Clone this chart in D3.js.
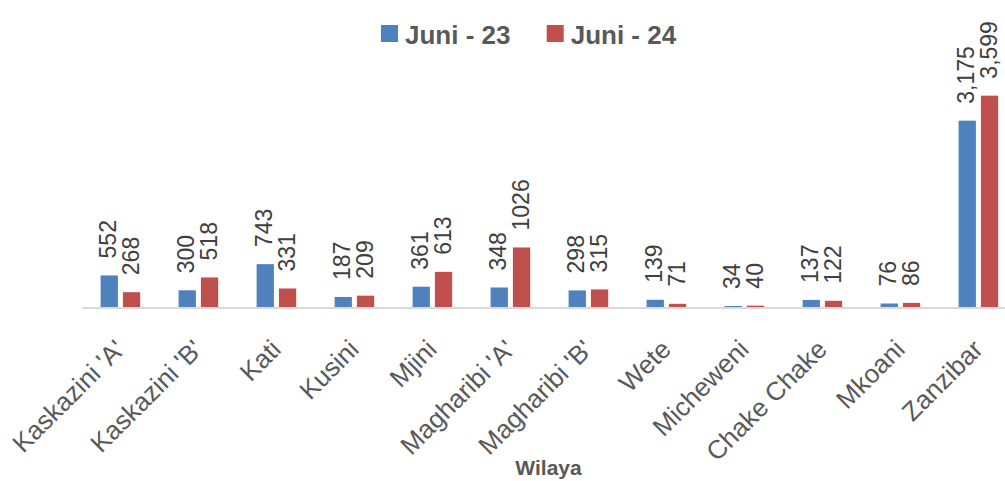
<!DOCTYPE html>
<html><head><meta charset="utf-8">
<script src="https://cdn.jsdelivr.net/npm/d3@7"></script>
<style>body{margin:0;background:#fff}svg{display:block}text{font-family:"Liberation Sans",Arial,sans-serif}</style>
</head><body>
<script>
const categories = ["Kaskazini 'A'","Kaskazini 'B'","Kati","Kusini","Mjini","Magharibi 'A'","Magharibi 'B'","Wete","Micheweni","Chake Chake","Mkoani","Zanzibar"];
const juni23 = [552,300,743,187,361,348,298,139,34,137,76,3175];
const juni24 = [268,518,331,209,613,1026,315,71,40,122,86,3599];
const seriesNames = ["Juni - 23","Juni - 24"];
const colors = ["#4F81BD","#C0504D"];

const W=1005,H=481;
const svg=d3.select("body").append("svg").attr("width",W).attr("height",H);
const x=d3.scaleBand().domain(categories).range([81.4,1017.4]).paddingInner(0).paddingOuter(0);
const xs=d3.scaleBand().domain([0,1]).range([0,78]).paddingInner(0.224).paddingOuter(0.861);
const y=d3.scaleLinear().domain([0,4000]).range([308,72]);
const fmt=(v,i)=> categories[i]==="Zanzibar" ? d3.format(",")(v) : String(v);
const data=[juni23,juni24];

const g=svg.append("g");
data.forEach((vals,s)=>{
  g.selectAll(".b"+s).data(vals).enter().append("rect")
   .attr("x",(d,i)=>x(categories[i])+xs(s)).attr("width",xs.bandwidth())
   .attr("y",d=>y(d)).attr("height",d=>y(0)-y(d)).attr("fill",colors[s]);
  g.selectAll(".l"+s).data(vals).enter().append("text")
   .attr("transform",(d,i)=>`translate(${x(categories[i])+xs(s)+xs.bandwidth()/2+7},${y(d)-17}) rotate(-90)`)
   .attr("font-size",23).attr("fill","#404040").text((d,i)=>fmt(d,i));
});
// axis
const ax=svg.append("g").attr("transform","translate(0,308)").call(d3.axisBottom(x).tickSize(0).tickFormat(""));
ax.select(".domain").attr("stroke","#D9D9D9").attr("stroke-width",2).attr("d","M82,0H1005");
svg.append("g").selectAll("text").data(categories).enter().append("text")
  .attr("transform",d=>`translate(${x(d)+x.bandwidth()/2+6},${351}) rotate(-45)`)
  .attr("text-anchor","end").attr("font-size",26).attr("fill","#595959").text(d=>d);
svg.append("text").attr("x",548.5).attr("y",475).attr("text-anchor","middle").attr("font-size",21).attr("font-weight","bold").attr("fill","#595959").text("Wilaya");
// legend
const lx=[381,546.7];
seriesNames.forEach((n,i)=>{
  svg.append("rect").attr("x",lx[i]).attr("y",25).attr("width",17).attr("height",17).attr("fill",colors[i]);
  svg.append("text").attr("x",lx[i]+24).attr("y",43.5).attr("font-size",26).attr("font-weight","bold").attr("fill","#595959").text(n);
});
</script>
</body></html>
